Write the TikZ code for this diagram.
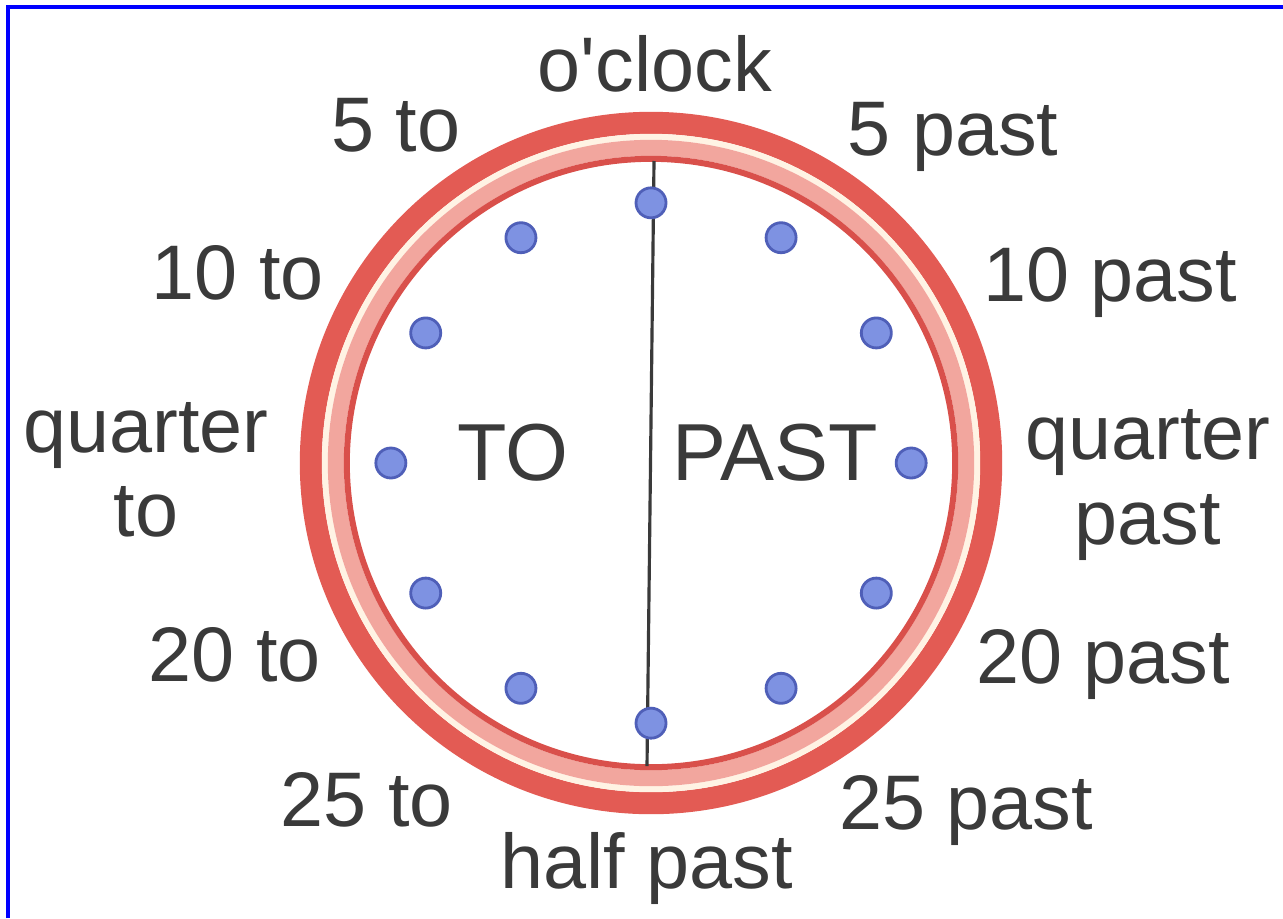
\documentclass[tikz,border=0pt]{standalone}
\usepackage{fontspec}
\setmainfont{Liberation Sans}
\definecolor{ringred}{HTML}{E35B54}
\definecolor{ringpink}{HTML}{F2A69E}
\definecolor{ringedge}{HTML}{D9504B}
\definecolor{ringcream}{HTML}{FFF3E4}
\definecolor{dotblue}{HTML}{7E92E2}
\definecolor{dotedge}{HTML}{4F5FB8}
\definecolor{txtgray}{HTML}{3A3A3A}

\begin{document}
\begin{tikzpicture}[x=0.01cm,y=-0.01cm,
  lbl/.style={text=txtgray,font=\fontsize{22}{24}\selectfont,align=center,inner sep=0pt},
  half/.style={text=txtgray,font=\fontsize{23}{25}\selectfont,inner sep=0pt},
  dot/.style={circle,draw=dotedge,fill=dotblue,line width=0.8pt,minimum size=3mm,inner sep=0pt}]
\useasboundingbox (0,0) rectangle (1283,918);
\fill[white] (0,0) rectangle (1283,918);
\draw[blue,line width=1.2pt] (8,918) -- (8,7) -- (1283,7);

% clock face
\coordinate (c) at (651,463);
\fill[white] (c) circle (3.02cm);
\draw[ringred,line width=2.2mm] (c) circle (3.40cm);
\draw[ringcream,line width=0.6mm] (c) circle (3.26cm);
\draw[ringpink,line width=1.6mm] (c) circle (3.15cm);
\draw[ringedge,line width=0.6mm] (c) circle (3.04cm);

\coordinate (top) at (654,161);
\coordinate (bot) at (647,766);
\draw[txtgray,line width=0.9pt] (top) -- (bot);

\foreach \h in {0,...,11}
  \node[dot] (d\h) at ([shift={(90-30*\h:2.6cm)}]c) {};

\node[half] (to) at (513,453) {TO};
\node[half] (past) at (775,453) {PAST};

% labels round the clock
\node[lbl] (oclock) at (655,64) {o\textquotesingle clock};
\node[lbl] (p5) at (953,137) {5 past};
\node[lbl] (p10) at (1110,283) {10 past};
\node[lbl] (p15) at (1148,485) {quarter\\past};
\node[lbl] (p20) at (1103,665) {20 past};
\node[lbl] (p25) at (966,810) {25 past};
\node[lbl] (halfpast) at (647,868) {half past};
\node[lbl] (t25) at (367,800) {25 to};
\node[lbl] (t20) at (235,655) {20 to};
\node[lbl] (t15) at (146,470) {quarter\\to};
\node[lbl] (t10) at (238,273) {10 to};
\node[lbl] (t5) at (396,125) {5 to};
\end{tikzpicture}
\end{document}
